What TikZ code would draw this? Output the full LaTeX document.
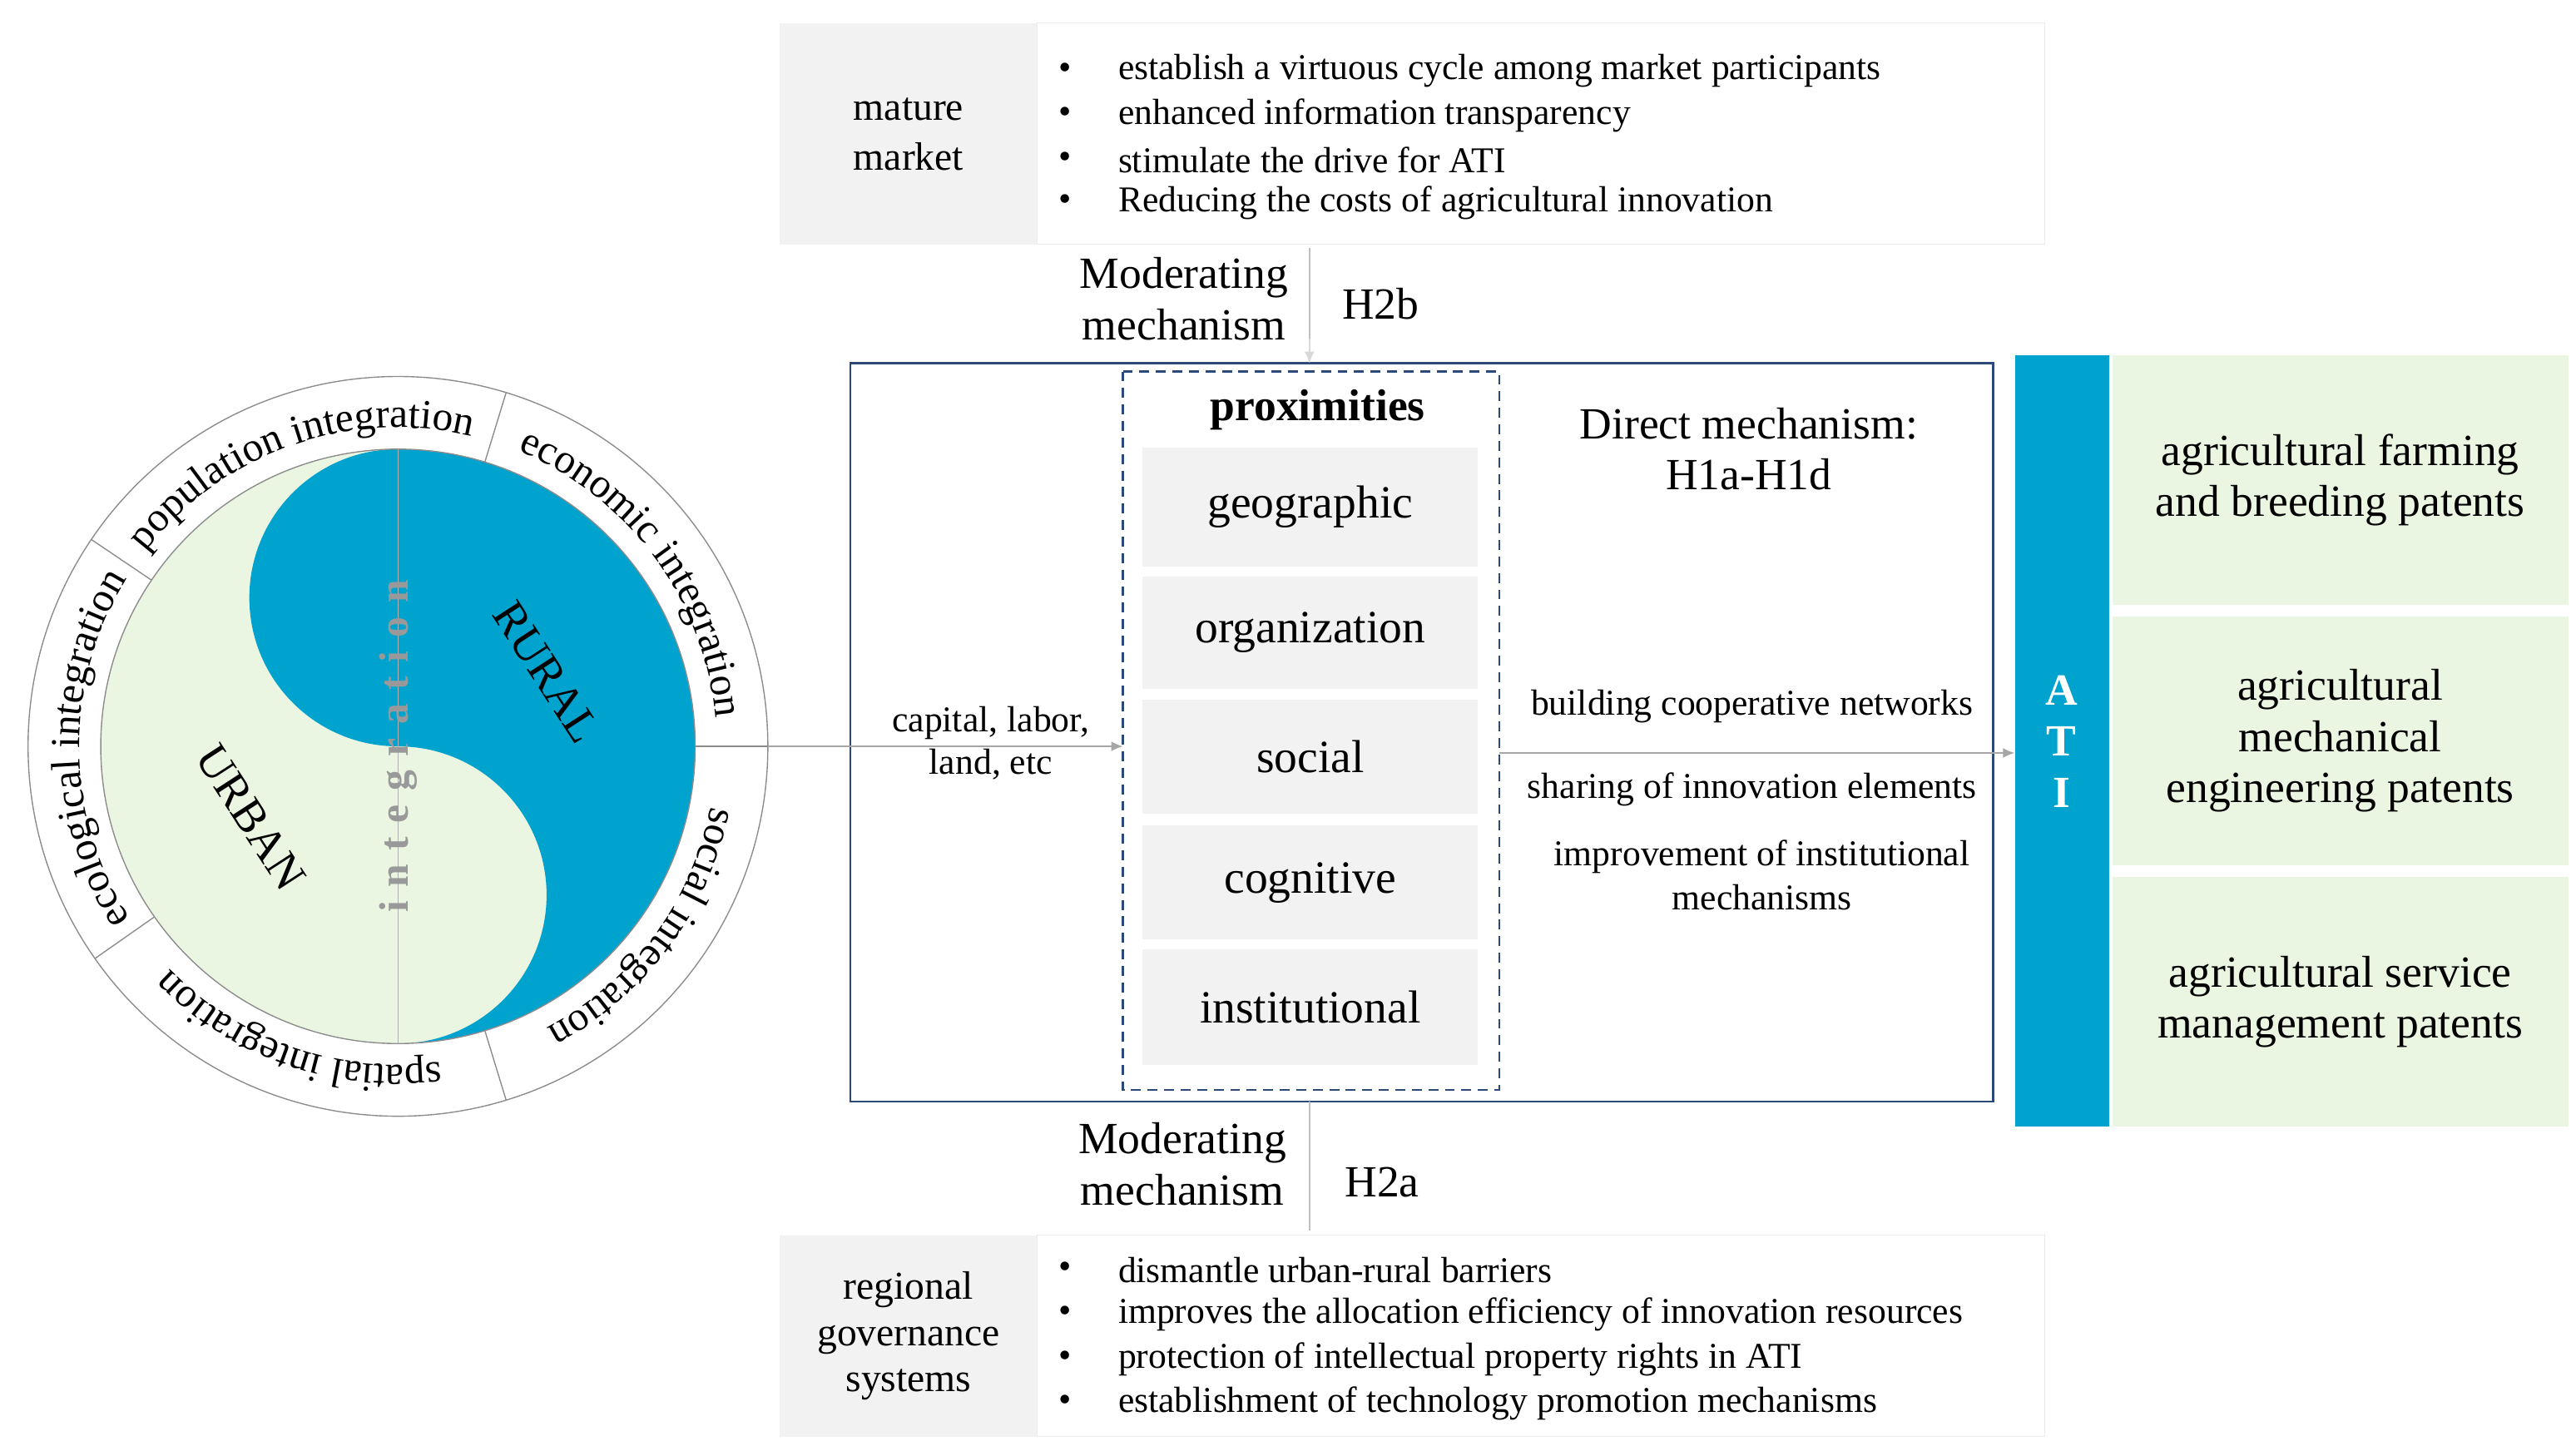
\documentclass[tikz,border=0pt]{standalone}
\usepackage{fontspec}
\setmainfont{Liberation Serif}
\usetikzlibrary{arrows.meta,decorations.text,calc}
\definecolor{ablue}{HTML}{00A2CE}
\definecolor{agreen}{HTML}{EAF6E2}
\definecolor{agray}{HTML}{F2F2F2}
\definecolor{navy}{HTML}{2B4A7A}
\newcommand{\fs}[1]{\fontsize{#1}{#1}\selectfont}
\begin{document}
\begin{tikzpicture}[x=1pt,y=1pt,
  cell/.style={fill=agray,draw=none,inner sep=0},
  gcell/.style={fill=agreen,draw=none,align=center,font=\fs{27}},
  arr/.style={draw=black!35,line width=0.8pt,-{Latex[length=7pt,width=6pt]}},
  gl/.style={draw=black!25,line width=0.8pt},
  bul/.style={anchor=west,font=\fs{22},inner sep=0},
  mid/.style={font=\fs{22},align=center,inner sep=0}]
\useasboundingbox (0,0) rectangle (1560,-878.3);
% ---------- circle
\coordinate (c) at (241,-452);
\fill[agreen] (c) circle (180);
\fill[ablue] (241,-272) arc (90:-90:180) arc (-90:90:90) arc (270:90:90) -- cycle;
\draw[black!45,line width=0.7pt] (c) circle (180);
\draw[black!45,line width=0.7pt] (c) circle (224);
\draw[black!30,line width=0.5pt] (241,-272) -- (241,-632);
\foreach \a in {0,73,146,215,287}{\draw[black!45,line width=0.7pt] ($(c)+(\a:180)$) -- ($(c)+(\a:224)$);}
\foreach \s/\e/\t in {146/73/population integration,73/0/economic integration,0/-73/social integration,-73/-145/spatial integration,215/146/ecological integration}{
  \path[decorate,decoration={text along path,text align=center,text={|\fs{25}|\t}}] ($(c)+(\s:193)$) arc (\s:\e:193);}
\node[rotate=90,text=black!40,font=\fs{25}\bfseries] (int) at (241,-452) {i\,\,n\,\,t\,\,e\,\,g\,\,r\,\,a\,\,t\,\,i\,\,o\,\,n};
\node[rotate=-57,font=\fs{28}] (urban) at (152,-495) {URBAN};
\node[rotate=-57,font=\fs{28}] (rural) at (331,-407) {RURAL};
\coordinate (cr) at (465,-452);
% ---------- top box
\node[cell,minimum width=156,minimum height=134,anchor=north west,align=center,font=\fs{24}] (mm) at (472,-14) {mature\\[6pt]market};
\draw[black!8,fill=white] (628,-14) rectangle (1238,-148);
\foreach \y/\t in {43/establish a virtuous cycle among market participants,70/enhanced information transparency,97/stimulate the drive for ATI,123/Reducing the costs of agricultural innovation}{
  \node[bul] at (641,-\y) {\textbullet}; \node[bul] at (677,-\y) {\t};}
\node[align=center,font=\fs{27},inner sep=0] (mod1) at (717,-181) {Moderating\\[4pt]mechanism};
\node[font=\fs{27}] (h2b) at (836,-184) {H2b};
% ---------- main box
\draw[navy,line width=1.2pt] (515,-220) rectangle (1207,-667);
\draw[navy,line width=1.2pt,dash pattern=on 6pt off 4pt] (680,-225) rectangle (908,-660);
\coordinate (mtop) at (793,-220);
\draw[gl] (793,-150) -- (793,-213);
\draw[arr,draw=black!15] (793,-205) -- (mtop);
\node[font=\fs{27}\bfseries] (prox) at (798,-248) {proximities};
\foreach \n/\a/\b in {geographic/271/343,organization/349/417,social/424/493,cognitive/500/569,institutional/575/645}{
  \fill[agray] (692,-\a) rectangle (895,-\b);
  \node[font=\fs{28}] (\n) at (793.5,-{(\a+\b)/2}) {\n};}
\node[align=center,font=\fs{27},inner sep=0] (dm) at (1059,-272) {Direct mechanism:\\[4pt]H1a-H1d};
\node[mid] (cap) at (600,-450) {capital, labor,\\[4pt]land, etc};
\coordinate (dl) at (680,-452);
\coordinate (dr) at (908,-456);
\draw[arr] (cr) -- (dl);
% ---------- ATI
\node[fill=ablue,minimum width=57,minimum height=467,anchor=north west,inner sep=0] (ati) at (1220,-215) {};
\node[text=white,font=\fs{27}\bfseries,align=center] at (1248.5,-449) {A\\[4pt]T\\[4pt]I};
\draw[arr] (dr) -- (ati.west|-dr);
\node[mid] (l1) at (1061,-428) {building cooperative networks};
\node[mid] (l2) at (1061,-478) {sharing of innovation elements};
\node[mid] (l3) at (1067,-530) {improvement of institutional\\[5pt]mechanisms};
\node[gcell,minimum width=276,minimum height=151,anchor=north west] (p1) at (1279,-215) {agricultural farming\\[4pt]and breeding patents};
\node[gcell,minimum width=276,minimum height=151,anchor=north west] (p2) at (1279,-373) {agricultural\\[4pt]mechanical\\[4pt]engineering patents};
\node[gcell,minimum width=276,minimum height=151,anchor=north west] (p3) at (1279,-531) {agricultural service\\[4pt]management patents};
% ---------- bottom
\node[align=center,font=\fs{27},inner sep=0] (mod2) at (716,-705) {Moderating\\[4pt]mechanism};
\node[font=\fs{27}] (h2a) at (837,-716) {H2a};
\draw[gl] (793,-667) -- (793,-745);
\node[cell,minimum width=156,minimum height=122,anchor=north west,align=center,font=\fs{24}] (rg) at (472,-748) {regional\\[4pt]governance\\[4pt]systems};
\draw[black!8,fill=white] (628,-748) rectangle (1238,-870);
\foreach \y/\t in {769/dismantle urban-rural barriers,796/improves the allocation efficiency of innovation resources,823/protection of intellectual property rights in ATI,850/establishment of technology promotion mechanisms}{
  \node[bul] at (641,-\y) {\textbullet}; \node[bul] at (677,-\y) {\t};}
\end{tikzpicture}
\end{document}
